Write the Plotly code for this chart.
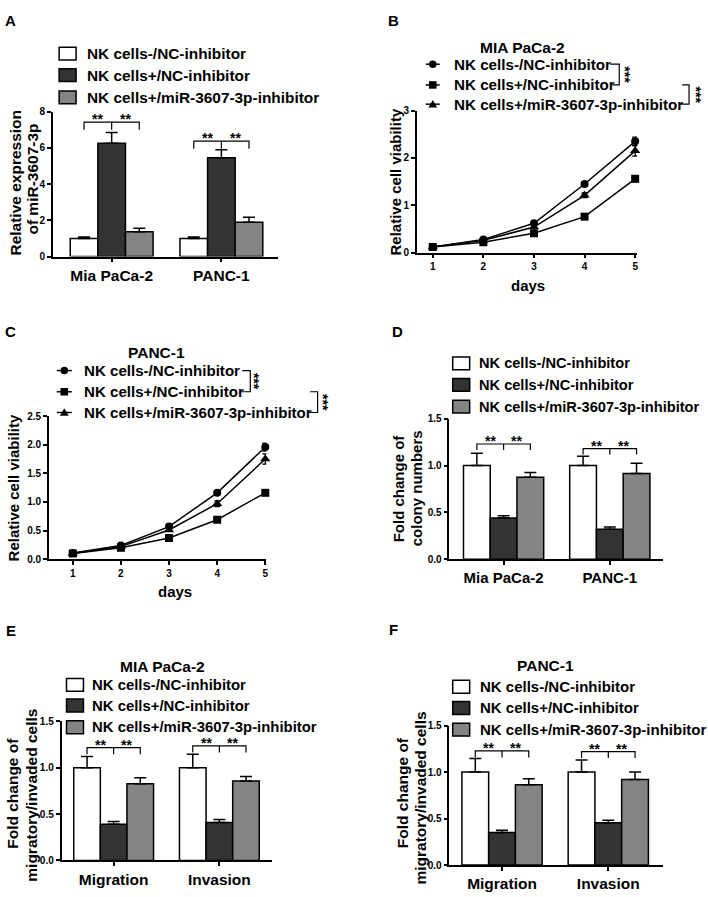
import plotly.graph_objects as go

# ---------------- data ----------------
GROUPS = ["NK cells-/NC-inhibitor", "NK cells+/NC-inhibitor", "NK cells+/miR-3607-3p-inhibitor"]
BAR_COLORS = ["#ffffff", "#333333", "#848484"]

# Panel A: relative expression of miR-3607-3p
A_cats = ["Mia PaCa-2", "PANC-1"]
A_vals = [[1.0, 1.0], [6.25, 5.45], [1.37, 1.9]]
A_err = [[0.08, 0.08], [0.6, 0.45], [0.2, 0.27]]
A_brk = [7.42, 6.37]

# Panel B: MIA PaCa-2 viability
days = [1, 2, 3, 4, 5]
B_vals = [[0.12, 0.28, 0.62, 1.45, 2.35],
          [0.12, 0.22, 0.41, 0.76, 1.56],
          [0.12, 0.26, 0.54, 1.21, 2.15]]
B_err = [[0.01, 0.02, 0.03, 0.05, 0.09],
         [0.01, 0.01, 0.02, 0.03, 0.06],
         [0.01, 0.02, 0.02, 0.05, 0.11]]

# Panel C: PANC-1 viability
C_vals = [[0.11, 0.24, 0.57, 1.16, 1.96],
          [0.10, 0.20, 0.37, 0.69, 1.16],
          [0.10, 0.22, 0.51, 0.97, 1.75]]
C_err = [[0.01, 0.01, 0.02, 0.04, 0.07],
         [0.01, 0.01, 0.01, 0.02, 0.04],
         [0.01, 0.01, 0.02, 0.05, 0.09]]

# Panel D: colony numbers
D_cats = ["Mia PaCa-2", "PANC-1"]
D_vals = [[1.0, 1.0], [0.44, 0.32], [0.875, 0.915]]
D_err = [[0.13, 0.10], [0.025, 0.025], [0.05, 0.11]]
D_brk = [1.23, 1.18]

# Panel E: MIA PaCa-2 migration / invasion
E_cats = ["Migration", "Invasion"]
E_vals = [[1.0, 1.0], [0.39, 0.41], [0.826, 0.855]]
E_err = [[0.12, 0.145], [0.03, 0.03], [0.065, 0.05]]
E_brk = [1.216, 1.234]

# Panel F: PANC-1 migration / invasion
F_cats = ["Migration", "Invasion"]
F_vals = [[1.0, 1.0], [0.35, 0.456], [0.863, 0.92]]
F_err = [[0.145, 0.13], [0.025, 0.025], [0.065, 0.08]]
F_brk = [1.227, 1.22]

# ---------------- layout helpers ----------------
W, H = 708, 897
FONT = "Liberation Sans, Arial, sans-serif"
BARGAP = 0.245
BW = (1 - BARGAP) / 3


def px(x):
    return x / W


def py(y):
    return 1 - y / H


def f(size):
    return dict(family=FONT, size=size, color="black", weight="bold")


fig = go.Figure()
shapes = []
annotations = []

# ---------------- bar panels ----------------
bar_panels = [
    ("x", "y", A_cats, A_vals, A_err),
    ("x4", "y4", D_cats, D_vals, D_err),
    ("x5", "y5", E_cats, E_vals, E_err),
    ("x6", "y6", F_cats, F_vals, F_err),
]
for xa, ya, cats, vals, errs in bar_panels:
    for i in range(3):
        fig.add_trace(go.Bar(
            x=cats, y=vals[i], name=GROUPS[i], xaxis=xa, yaxis=ya,
            marker=dict(color=BAR_COLORS[i], line=dict(color="black", width=1.5)),
            error_y=dict(type="data", symmetric=False, array=errs[i],
                         arrayminus=[0] * len(errs[i]), color="black",
                         thickness=1.5, width=6),
            showlegend=False, cliponaxis=False,
        ))

# ---------------- line panels ----------------
SYMBOLS = ["circle", "square", "triangle-up"]
SIZES = [8, 8, 9]
for xa, ya, vals, errs in [("x2", "y2", B_vals, B_err), ("x3", "y3", C_vals, C_err)]:
    for i in range(3):
        fig.add_trace(go.Scatter(
            x=days, y=vals[i], name=GROUPS[i], xaxis=xa, yaxis=ya,
            mode="lines+markers",
            line=dict(color="black", width=1.5),
            marker=dict(symbol=SYMBOLS[i], size=SIZES[i], color="black"),
            error_y=dict(type="data", array=errs[i], color="black",
                         thickness=1.3, width=3),
            showlegend=False, cliponaxis=False,
        ))

# ---------------- axes ----------------
def axis_common(size):
    return dict(showline=True, linecolor="black", linewidth=1.5,
                ticks="outside", ticklen=4, tickwidth=1.5, tickcolor="black",
                showgrid=False, zeroline=False, tickfont=f(size), fixedrange=True)


def xdom(a, b):
    return [px(a), px(b)]


def ydom(bottom, top):
    return [py(bottom), py(top)]


fig.update_layout(
    xaxis=dict(**axis_common(15.5), domain=xdom(53, 279), range=[-0.536, 1.518],
               type="category", anchor="y"),
    yaxis=dict(**axis_common(10), domain=ydom(254, 107), range=[0, 8],
               tickvals=[0, 2, 4, 6, 8], anchor="x"),
    xaxis2=dict(**axis_common(10), domain=xdom(418, 639), range=[0.685, 5.04],
                tickvals=days, anchor="y2"),
    yaxis2=dict(**axis_common(10), domain=ydom(250, 106), range=[0, 3],
                tickvals=[0, 1, 2, 3], anchor="x2"),
    xaxis3=dict(**axis_common(10), domain=xdom(49, 267), range=[0.503, 5.02],
                tickvals=days, anchor="y3"),
    yaxis3=dict(**axis_common(10), domain=ydom(560.7, 415.7), range=[0, 2.5],
                tickvals=[0, 0.5, 1, 1.5, 2, 2.5], tickformat=".1f", anchor="x3"),
    xaxis4=dict(**axis_common(15), domain=xdom(450.7, 665), range=[-0.51, 1.502],
                type="category", anchor="y4"),
    yaxis4=dict(**axis_common(10), domain=ydom(560.7, 418.3), range=[0, 1.5],
                tickvals=[0, 0.5, 1, 1.5], tickformat=".1f", anchor="x4"),
    xaxis5=dict(**axis_common(15.5), domain=xdom(61.7, 273), range=[-0.493, 1.5],
                type="category", anchor="y5"),
    yaxis5=dict(**axis_common(10), domain=ydom(866, 725), range=[0, 1.5],
                tickvals=[0, 0.5, 1, 1.5], tickformat=".1f", anchor="x5"),
    xaxis6=dict(**axis_common(15.5), domain=xdom(450.7, 665), range=[-0.495, 1.516],
                type="category", anchor="y6"),
    yaxis6=dict(**axis_common(10), domain=ydom(870.7, 729.3), range=[0, 1.5],
                tickvals=[0, 0.5, 1, 1.5], tickformat=".1f", anchor="x6"),
)

# ---------------- significance brackets on bars ----------------
def bar_brackets(xa, ya, brk, drop):
    for c, yb in enumerate(brk):
        xl, xm, xr = c - BW, c, c + BW
        path = (f"M {xl},{yb - drop} L {xl},{yb} L {xr},{yb} L {xr},{yb - drop} "
                f"M {xm},{yb} L {xm},{yb - drop}")
        shapes.append(dict(type="path", xref=xa, yref=ya, path=path,
                           line=dict(color="black", width=1.2)))
        for xs in (c - BW / 2, c + BW / 2):
            annotations.append(dict(x=xs, y=yb, xref=xa, yref=ya, text="**",
                                    showarrow=False, font=f(14), yanchor="bottom",
                                    yshift=-7))


bar_brackets("x", "y", A_brk, 0.42)
bar_brackets("x4", "y4", D_brk, 0.063)
bar_brackets("x5", "y5", E_brk, 0.07)
bar_brackets("x6", "y6", F_brk, 0.07)

# ---------------- legends ----------------
def bar_legend(box_x, rows, text_x, size):
    for i, r in enumerate(rows):
        shapes.append(dict(type="rect", xref="paper", yref="paper",
                           x0=px(box_x), x1=px(box_x + 17), y0=py(r + 6.5), y1=py(r - 6.5),
                           fillcolor=BAR_COLORS[i], line=dict(color="black", width=1.5)))
        annotations.append(dict(x=px(text_x), y=py(r), xref="paper", yref="paper",
                                text=GROUPS[i], showarrow=False, xanchor="left",
                                yanchor="middle", font=f(size)))


bar_legend(59.3, [48.3, 70, 92.7], 85, 15.4)
bar_legend(454, [362.3, 384, 406], 478, 14.6)
bar_legend(66.7, [688, 709, 731], 90, 14.9)
bar_legend(454, [690, 711.5, 733.5], 479, 15)


def marker_shape(cx, cy, kind):
    s = 3.8
    if kind == "circle":
        return dict(type="circle", xref="paper", yref="paper",
                    x0=px(cx - s), x1=px(cx + s), y0=py(cy + s), y1=py(cy - s),
                    fillcolor="black", line=dict(color="black", width=0))
    if kind == "square":
        return dict(type="rect", xref="paper", yref="paper",
                    x0=px(cx - s), x1=px(cx + s), y0=py(cy + s), y1=py(cy - s),
                    fillcolor="black", line=dict(color="black", width=0))
    path = (f"M {px(cx - 4.4)},{py(cy + 3.3)} L {px(cx + 4.4)},{py(cy + 3.3)} "
            f"L {px(cx)},{py(cy - 4.2)} Z")
    return dict(type="path", xref="paper", yref="paper", path=path,
                fillcolor="black", line=dict(color="black", width=0))


def line_legend(x0, x1, rows, text_x, size):
    for i, r in enumerate(rows):
        shapes.append(dict(type="line", xref="paper", yref="paper",
                           x0=px(x0), x1=px(x1), y0=py(r), y1=py(r),
                           line=dict(color="black", width=1.5)))
        shapes.append(marker_shape((x0 + x1) / 2, r, SYMBOLS[i]))
        annotations.append(dict(x=px(text_x), y=py(r), xref="paper", yref="paper",
                                text=GROUPS[i], showarrow=False, xanchor="left",
                                yanchor="middle", font=f(size)))


line_legend(427, 441, [59, 80, 99.5], 453, 15.2)
line_legend(57, 72, [369.5, 391, 412], 82, 15.1)


def legend_bracket(xl_top, x_v, y_top, xl_bot, y_bot, star_x):
    path = (f"M {px(xl_top)},{py(y_top)} L {px(x_v)},{py(y_top)} "
            f"L {px(x_v)},{py(y_bot)} L {px(xl_bot)},{py(y_bot)}")
    shapes.append(dict(type="path", xref="paper", yref="paper", path=path,
                       line=dict(color="black", width=1.2)))
    annotations.append(dict(x=px(star_x), y=py((y_top + y_bot) / 2), xref="paper",
                            yref="paper", text="***", textangle=90, showarrow=False,
                            font=f(14), xanchor="center", yanchor="middle"))


legend_bracket(612, 621, 59, 614, 80, 627)
legend_bracket(684, 691, 80, 682, 99.5, 698)
legend_bracket(243, 251, 369.5, 242, 391, 255)
legend_bracket(311, 318.5, 391, 308, 412, 324)

# ---------------- titles / labels ----------------
def txt(x, y, text, size, angle=0, xanchor="center"):
    annotations.append(dict(x=px(x), y=py(y), xref="paper", yref="paper", text=text,
                            showarrow=False, font=f(size), textangle=angle,
                            xanchor=xanchor, yanchor="middle"))


for letter, x, y in [("A", 11, 15), ("B", 395, 15), ("C", 11, 330),
                     ("D", 399, 330), ("E", 11, 633), ("F", 395, 632)]:
    txt(x, y, letter, 15)

txt(524, 41.7, "MIA PaCa-2", 15.5)
txt(157, 351, "PANC-1", 15.5)
txt(163, 669, "MIA PaCa-2", 15.5)
txt(547, 668, "PANC-1", 15.5)

# y-axis titles (each line placed separately for tight line spacing)
txt(16, 179, "Relative expression", 15.5, -90)
txt(33, 175, "of miR-3607-3p", 15.5, -90)
txt(397, 178, "Relative cell viability", 15, -90)
txt(14, 488, "Relative cell viability", 15, -90)
txt(400, 489, "Fold change of", 15, -90)
txt(418, 489, "colony numbers", 15, -90)
txt(12.5, 798, "Fold change of", 15.5, -90)
txt(31.5, 800, "migratory/invaded cells", 15.5, -90)
txt(403, 797, "Fold change of", 15.5, -90)
txt(421.5, 803, "migratory/invaded cells", 15.5, -90)
txt(529, 283, "days", 15)
txt(175, 593, "days", 15)

fig.update_layout(
    width=W, height=H, margin=dict(l=0, r=0, t=0, b=0),
    paper_bgcolor="white", plot_bgcolor="white",
    barmode="group", bargap=BARGAP, bargroupgap=0,
    showlegend=False, shapes=shapes, annotations=annotations,
    font=dict(family=FONT, color="black"),
)

fig.write_html(
    "out.html",
    config={"displayModeBar": False},
    post_script="document.body.style.margin='0px';document.body.style.padding='0px';",
)
